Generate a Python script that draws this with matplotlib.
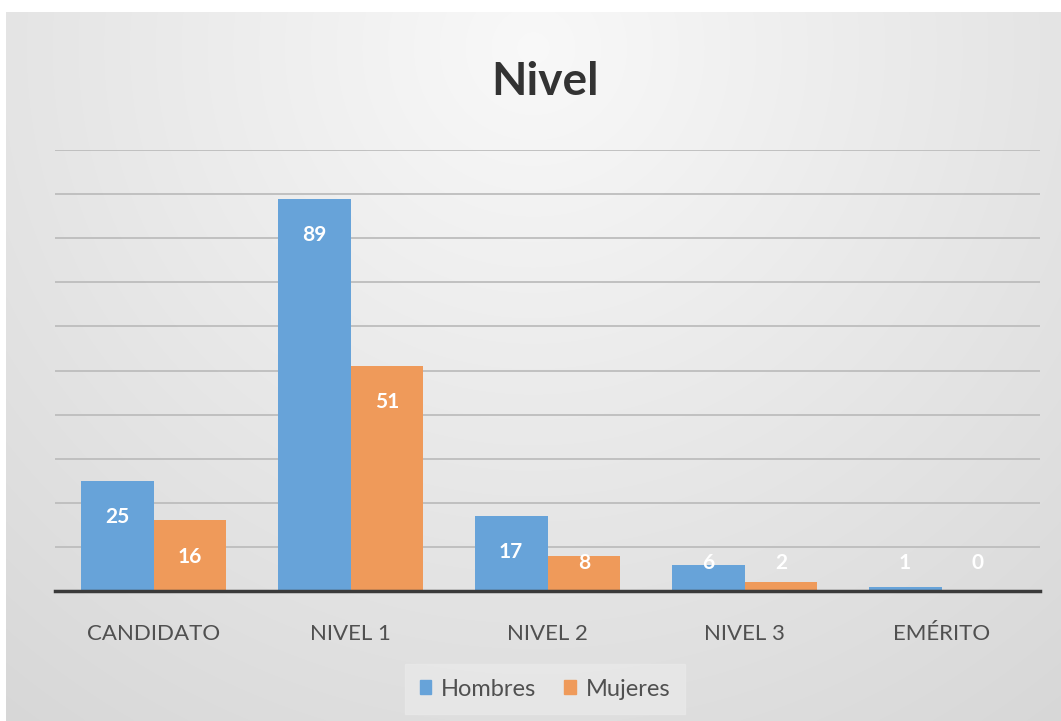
import numpy as np
from matplotlib import pyplot as plt
from matplotlib.patches import Patch

# datos
categorias = ["CANDIDATO", "NIVEL 1", "NIVEL 2", "NIVEL 3", "EMÉRITO"]
hombres = [25, 89, 17, 6, 1]
mujeres = [16, 51, 8, 2, 0]

azul = "#67a3d9"
naranja = "#ef9a5a"

plt.rcParams['font.family'] = ['Lato', 'DejaVu Sans']

fig = plt.figure(figsize=(10.61, 7.21), dpi=100)
fig.patch.set_facecolor("white")

# fondo con degradado
bg = fig.add_axes([6/1061, 0, 1055/1061, 709/721])
yy, xx = np.mgrid[0:1:400j, 0:1:600j]
r = np.sqrt(((xx - 0.5) / 0.75) ** 2 + ((yy - 0.05) / 1.1) ** 2)
g = np.clip(0.975 - 0.12 * r, 0, 1)
bg.imshow(np.dstack([g, g, g]), aspect="auto", extent=[0, 1, 1, 0],
          interpolation="bilinear")
bg.axis("off")

ax = fig.add_axes([55/1061, 130/721, 985/1061, 441/721])
ax.set_facecolor("none")
x = np.arange(len(categorias))
w = 0.37
ax.bar(x - w/2, hombres, w, color=azul, label="Hombres", zorder=3)
ax.bar(x + w/2, mujeres, w, color=naranja, label="Mujeres", zorder=3)

ax.set_xlim(-0.5, len(categorias) - 0.5)
ax.set_ylim(0, 100)
ax.set_yticks(range(10, 101, 10))
ax.yaxis.grid(True, color="#bdbdbd", linewidth=1.3, zorder=0)
ax.tick_params(axis="y", left=False, labelleft=False)
ax.tick_params(axis="x", bottom=False, labelsize=16, labelcolor="#505050", pad=20)
ax.set_xticks(x)
ax.set_xticklabels(categorias)
for s in ["top", "right", "left"]:
    ax.spines[s].set_visible(False)
ax.spines["bottom"].set_color("#3a3a3a")
ax.spines["bottom"].set_linewidth(2.5)
ax.spines["bottom"].set_zorder(4)

for xs, vals in [(x - w/2, hombres), (x + w/2, mujeres)]:
    for xi, v in zip(xs, vals):
        ax.text(xi, max(v - 8.2, 6.3), str(v), ha="center", va="center",
                color="white", fontsize=15, fontweight="bold", zorder=5)

fig.text(545/1061, 1 - 82/721, "Nivel", ha="center", va="center",
         fontsize=33, fontweight="bold", color="#333333")

handles = [Patch(color=azul, label="Hombres"), Patch(color=naranja, label="Mujeres")]
fig.legend(handles=handles, loc="center", bbox_to_anchor=(545/1061, 1 - 689/721),
           ncol=2, frameon=True, fontsize=17, handlelength=0.5, handleheight=0.5,
           handletextpad=0.4, columnspacing=1.2, facecolor="#e9e9e9",
           edgecolor="#e9e9e9", fancybox=False, labelcolor="#505050",
           borderpad=0.6)

fig.savefig("out.png", dpi=100)
